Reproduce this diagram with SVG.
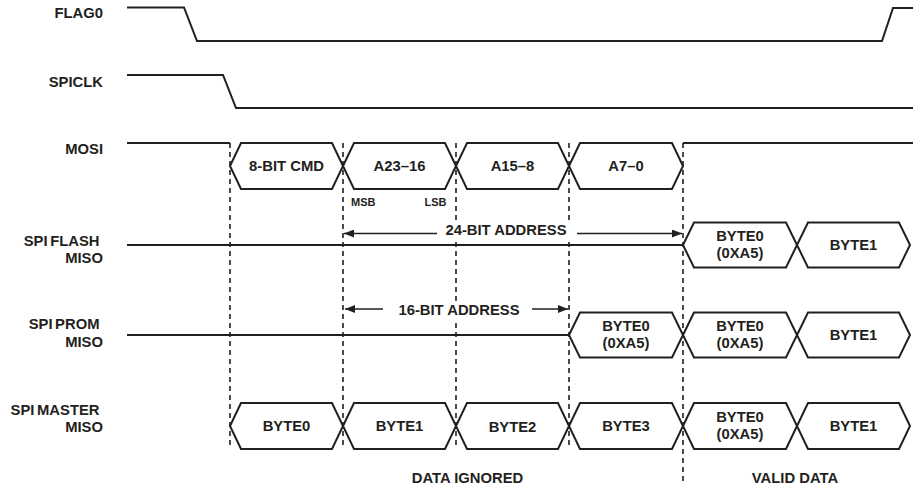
<svg xmlns="http://www.w3.org/2000/svg" width="913" height="488" viewBox="0 0 913 488">
<defs>
<style>
.lbl{font-family:"Liberation Sans",Arial,sans-serif;font-weight:bold;font-size:14.8px;fill:#231f20}
.sm{font-family:"Liberation Sans",Arial,sans-serif;font-weight:bold;font-size:11px;fill:#231f20}
.sig{fill:none;stroke:#231f20;stroke-width:2;stroke-linejoin:miter}
.hex{fill:none;stroke:#231f20;stroke-width:2;stroke-linejoin:miter}
.dash{fill:none;stroke:#231f20;stroke-width:1.6;stroke-dasharray:5,4}
.arr{fill:none;stroke:#231f20;stroke-width:1.6}
.bg{fill:#ffffff}
</style>
<marker id="ah" viewBox="0 0 10 8" refX="10" refY="4" markerWidth="10" markerHeight="8" markerUnits="userSpaceOnUse" orient="auto-start-reverse">
<path d="M0,0 L10,4 L0,8 Z" fill="#231f20"/>
</marker>
</defs>
<rect width="913" height="488" fill="#ffffff"/>

<g id="flag0">
<text class="lbl" x="103" y="18" text-anchor="end">FLAG0</text>
<path class="sig" d="M127,7.5 H184 L197,41 H882 L893,8 H913"/>
</g>

<g id="spiclk">
<text class="lbl" x="103" y="86.5" text-anchor="end">SPICLK</text>
<path class="sig" d="M127,75 H223 L236,108 H913"/>
</g>

<g id="connectors">
<path class="dash" d="M230,143 V449 M343,143 V449 M456,143 V449 M569,143 V449 M683,143 V481"/>
<path class="arr" d="M437,233.5 H344" marker-end="url(#ah)"/>
<path class="arr" d="M577,233.5 H682" marker-end="url(#ah)"/>
<path class="arr" d="M383,309 H345" marker-end="url(#ah)"/>
<path class="arr" d="M532,309 H568" marker-end="url(#ah)"/>
</g>

<g id="mosi">
<text class="lbl" x="103" y="154" text-anchor="end">MOSI</text>
<path class="sig" d="M127,143 H230"/>
<path class="hex" d="M230,166 L241,143 H332 L343,166 L332,189 H241 Z"/>
<path class="hex" d="M343,166 L354,143 H445 L456,166 L445,189 H354 Z"/>
<path class="hex" d="M456,166 L467,143 H558 L569,166 L558,189 H467 Z"/>
<path class="hex" d="M569,166 L580,143 H672 L683,166 L672,189 H580 Z"/>
<path class="sig" d="M683,143 H913"/>
<text class="lbl" x="286.5" y="171" text-anchor="middle">8-BIT CMD</text>
<text class="lbl" x="399.5" y="171" text-anchor="middle">A23–16</text>
<text class="lbl" x="512.5" y="171" text-anchor="middle">A15–8</text>
<text class="lbl" x="626" y="171" text-anchor="middle">A7–0</text>
<text class="sm" x="351" y="206">MSB</text>
<text class="sm" x="446.5" y="206" text-anchor="end">LSB</text>
</g>

<g id="spi-flash-miso">
<text class="lbl" x="99.5" y="245.5" text-anchor="end" word-spacing="-1.5">SPI FLASH</text>
<text class="lbl" x="103" y="263" text-anchor="end">MISO</text>
<path class="sig" d="M127,245 H683"/>
<path class="hex" d="M683,245 L694,222.5 H786 L797,245 L786,267.5 H694 Z"/>
<path class="hex" d="M797,245 L808,222.5 H899 L910,245 L899,267.5 H808 Z"/>
<text class="lbl" x="740" y="240.5" text-anchor="middle">BYTE0</text>
<text class="lbl" x="740" y="257.5" text-anchor="middle">(0XA5)</text>
<text class="lbl" x="853.5" y="250" text-anchor="middle">BYTE1</text>
</g>

<g id="spi-prom-miso">
<text class="lbl" x="99.5" y="329" text-anchor="end" word-spacing="-1.5">SPI PROM</text>
<text class="lbl" x="103" y="347" text-anchor="end">MISO</text>
<path class="sig" d="M127,335 H569"/>
<path class="hex" d="M569,335 L580,312.5 H672 L683,335 L672,357.5 H580 Z"/>
<path class="hex" d="M683,335 L694,312.5 H786 L797,335 L786,357.5 H694 Z"/>
<path class="hex" d="M797,335 L808,312.5 H899 L910,335 L899,357.5 H808 Z"/>
<text class="lbl" x="626" y="330.5" text-anchor="middle">BYTE0</text>
<text class="lbl" x="626" y="347.5" text-anchor="middle">(0XA5)</text>
<text class="lbl" x="740" y="330.5" text-anchor="middle">BYTE0</text>
<text class="lbl" x="740" y="347.5" text-anchor="middle">(0XA5)</text>
<text class="lbl" x="853.5" y="340" text-anchor="middle">BYTE1</text>
</g>

<g id="spi-master-miso">
<text class="lbl" x="99.5" y="415" text-anchor="end" word-spacing="-1.5">SPI MASTER</text>
<text class="lbl" x="103" y="432" text-anchor="end">MISO</text>
<path class="hex" d="M230,426 L241,403 H332 L343,426 L332,449 H241 Z"/>
<path class="hex" d="M343,426 L354,403 H445 L456,426 L445,449 H354 Z"/>
<path class="hex" d="M456,426 L467,403 H558 L569,426 L558,449 H467 Z"/>
<path class="hex" d="M569,426 L580,403 H672 L683,426 L672,449 H580 Z"/>
<path class="hex" d="M683,426 L694,403 H786 L797,426 L786,449 H694 Z"/>
<path class="hex" d="M797,426 L808,403 H899 L910,426 L899,449 H808 Z"/>
<text class="lbl" x="286.5" y="431" text-anchor="middle">BYTE0</text>
<text class="lbl" x="399.5" y="431" text-anchor="middle">BYTE1</text>
<text class="lbl" x="512.5" y="432" text-anchor="middle">BYTE2</text>
<text class="lbl" x="626" y="431" text-anchor="middle">BYTE3</text>
<text class="lbl" x="740" y="421.5" text-anchor="middle">BYTE0</text>
<text class="lbl" x="740" y="438.5" text-anchor="middle">(0XA5)</text>
<text class="lbl" x="853.5" y="431" text-anchor="middle">BYTE1</text>
</g>

<g id="annotations">
<rect class="bg" x="441" y="222" width="130" height="17"/>
<rect class="bg" x="393" y="301" width="132" height="18"/>
<text class="lbl" x="506" y="235" text-anchor="middle">24-BIT ADDRESS</text>
<text class="lbl" x="459" y="315" text-anchor="middle">16-BIT ADDRESS</text>
<text class="lbl" x="467.5" y="483" text-anchor="middle">DATA IGNORED</text>
<text class="lbl" x="795" y="483" text-anchor="middle">VALID DATA</text>
</g>
</svg>
